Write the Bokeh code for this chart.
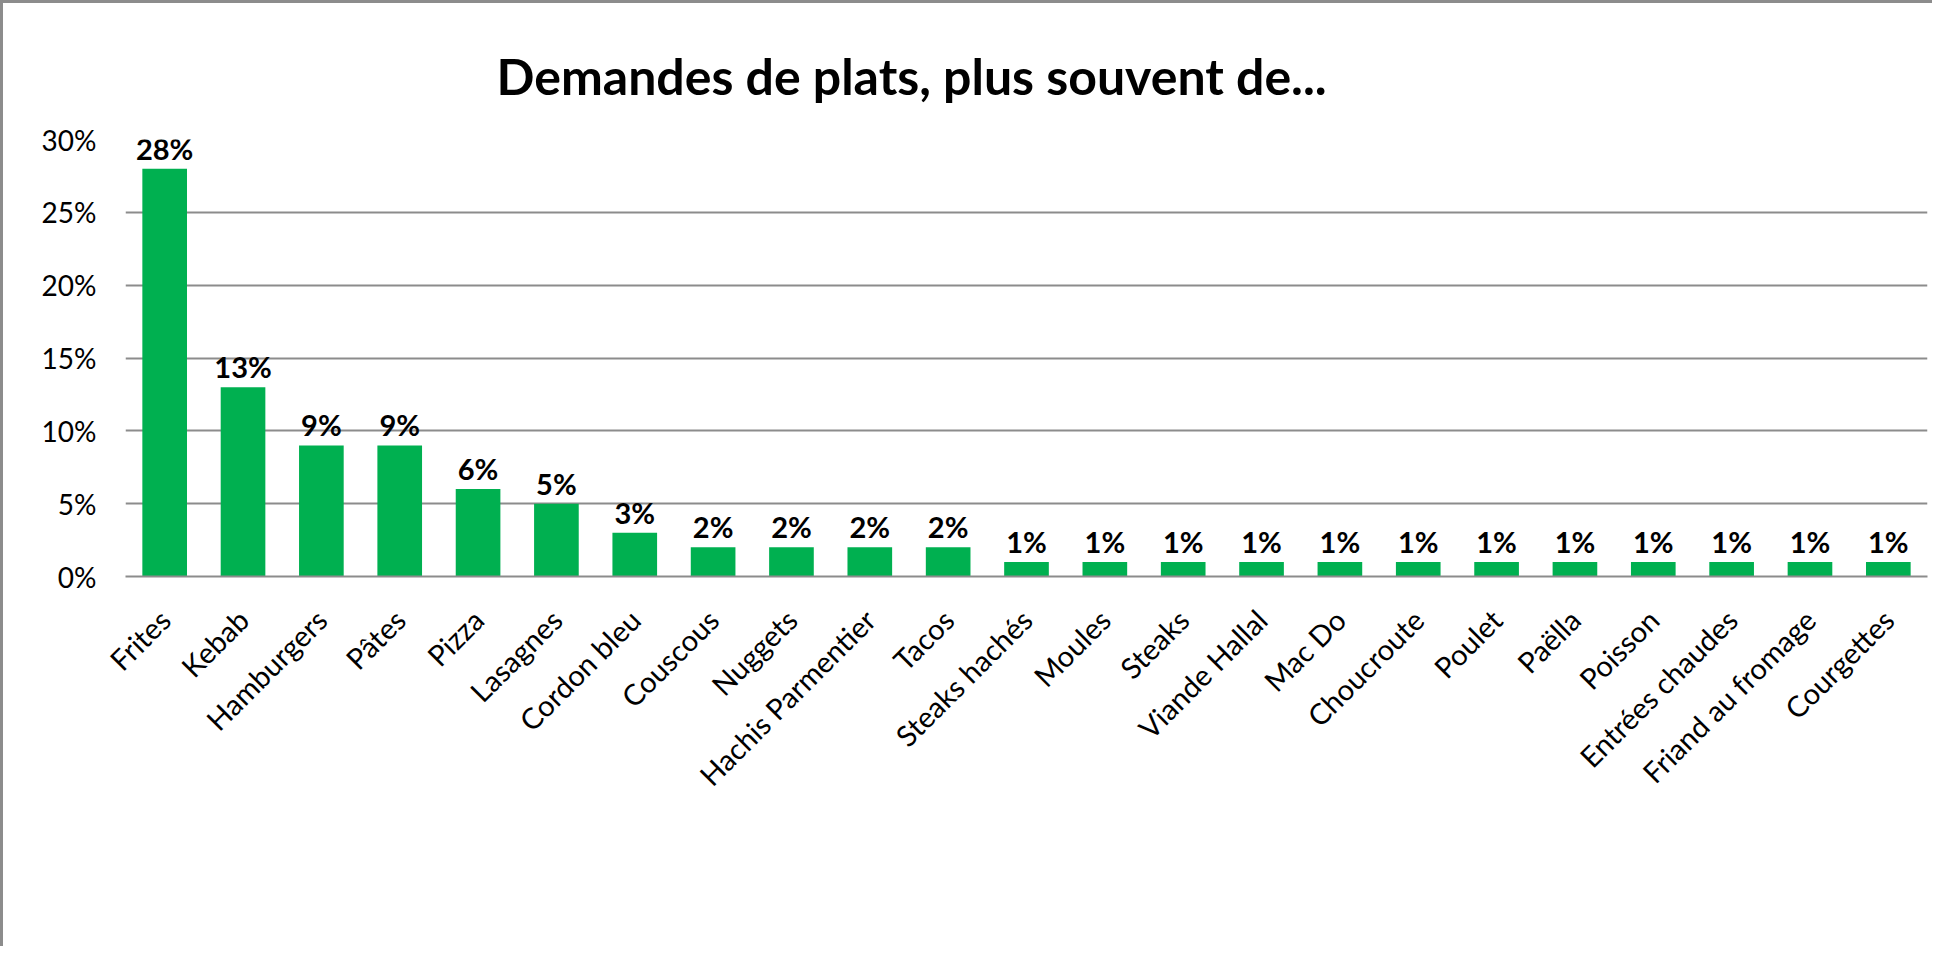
import math
from bokeh.plotting import figure
from bokeh.models import ColumnDataSource, FactorRange, Range1d, FixedTicker, NumeralTickFormatter, Title
from bokeh.embed import file_html
from bokeh.resources import INLINE

categories = ["Frites", "Kebab", "Hamburgers", "Pâtes", "Pizza", "Lasagnes", "Cordon bleu",
              "Couscous", "Nuggets", "Hachis Parmentier", "Tacos", "Steaks hachés", "Moules",
              "Steaks", "Viande Hallal", "Mac Do", "Choucroute", "Poulet", "Paëlla", "Poisson",
              "Entrées chaudes", "Friand au fromage", "Courgettes"]
values = [0.28, 0.13, 0.09, 0.09, 0.06, 0.05, 0.03,
          0.02, 0.02, 0.02, 0.02, 0.01, 0.01,
          0.01, 0.01, 0.01, 0.01, 0.01, 0.01, 0.01,
          0.01, 0.01, 0.01]
y_ticks = [0, 0.05, 0.10, 0.15, 0.20, 0.25, 0.30]
title_text = "Demandes de plats, plus souvent de..."

labels = [f"{round(v * 100)}%" for v in values]
source = ColumnDataSource(dict(cat=categories, val=values, lbl=labels))

FONT = "Lato"
GRID = "#8c8c8c"

p = figure(width=1932, height=946, output_backend="svg", toolbar_location=None,
           x_range=FactorRange(*categories, range_padding=0), y_range=Range1d(0, 0.30),
           min_border_left=122, min_border_right=8, min_border_top=136, min_border_bottom=373)

p.vbar(x="cat", top="val", width=0.57, source=source, color="#00B050", line_color=None)
p.text(x="cat", y="val", text="lbl", source=source, text_align="center", text_baseline="bottom",
       y_offset=-3, text_font_size="29px", text_font_style="bold", text_color="black",
       text_font={"value": FONT})

t = Title(text=title_text, align="left", offset=371, text_font_size="50px",
          text_font_style="bold", text_color="black", text_font=FONT, standoff=67)
p.add_layout(t, "above")

p.outline_line_color = None
p.background_fill_color = "white"
p.border_fill_color = "white"

p.xgrid.grid_line_color = None
p.ygrid.grid_line_color = GRID
p.ygrid.grid_line_width = 2
p.ygrid.ticker = FixedTicker(ticks=y_ticks)

p.yaxis.ticker = FixedTicker(ticks=y_ticks)
p.yaxis.formatter = NumeralTickFormatter(format="0%")
p.yaxis.axis_line_color = None
p.yaxis.major_tick_line_color = None
p.yaxis.minor_tick_line_color = None
p.yaxis.major_tick_out = 0
p.yaxis.major_tick_in = 0
p.yaxis.minor_tick_out = 0
p.yaxis.major_label_standoff = 29
p.yaxis.major_label_text_font = FONT
p.yaxis.major_label_text_font_size = "28px"
p.yaxis.major_label_text_color = "black"

p.xaxis.axis_line_color = GRID
p.xaxis.axis_line_width = 2
p.xaxis.major_tick_line_color = None
p.xaxis.minor_tick_line_color = None
p.xaxis.major_tick_out = 0
p.xaxis.major_tick_in = 0
p.xaxis.minor_tick_out = 0
p.xaxis.major_label_orientation = math.pi / 4
p.xaxis.major_label_standoff = 38
p.xaxis.major_label_text_font = FONT
p.xaxis.major_label_text_font_size = "29px"
p.xaxis.major_label_text_color = "black"

p.styles = {"border-left": "3px solid #8c8c8c", "border-top": "3px solid #8c8c8c",
            "box-sizing": "border-box"}

open("out.html", "w").write(file_html(p, INLINE))
